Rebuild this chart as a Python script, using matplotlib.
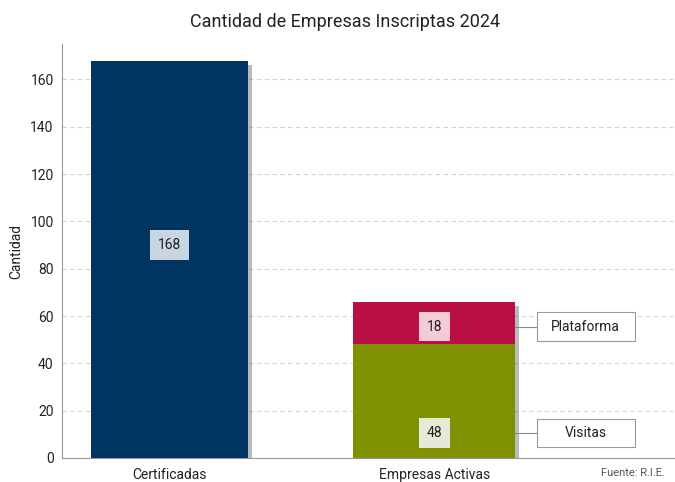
import matplotlib
matplotlib.use("Agg")
import matplotlib.pyplot as plt
import matplotlib.patheffects as pe
from matplotlib.patches import Rectangle

# data
categories = ["Certificadas", "Empresas Activas"]
certificadas = [168, 0]
visitas = [0, 48]
plataforma = [0, 18]

plt.rcParams['font.family'] = ['Roboto', 'DejaVu Sans']

fig = plt.figure(figsize=(6.75, 4.82), dpi=100)
ax = fig.add_axes([0.0919, 0.0498, 0.9081, 0.8589])

shadow = [pe.SimplePatchShadow(offset=(3, -3), shadow_rgbFace="#555555", alpha=0.4),
          pe.Normal()]

x = [0, 1]
totals = [certificadas[i] + visitas[i] + plataforma[i] for i in range(2)]
# shadows behind the full bars
sh = ax.bar(x, totals, width=[0.59, 0.61], color="white", zorder=2.5)
for p in sh:
    p.set_path_effects(shadow)
ax.bar(x[0], certificadas[0], width=0.59, color="#003562", zorder=3)
ax.bar(x[1], visitas[1], width=0.61, color="#7f9100", zorder=3)
ax.bar(x[1], plataforma[1], bottom=visitas[1], width=0.61, color="#b80f45", zorder=3)

def value_box(xv, yv, txt, face):
    ax.text(xv, yv, txt, ha="center", va="center", fontsize=10, color="#222222", zorder=5,
            bbox=dict(boxstyle="square,pad=0.55", facecolor=face, edgecolor="none"))

y_vis = visitas[1] * 0.22
y_pla = visitas[1] + plataforma[1] * 0.42
value_box(x[0], 90, str(certificadas[0]), "#c9d6e1")
value_box(x[1], y_vis, str(visitas[1]), "#e5e9d6")
value_box(x[1], y_pla, str(plataforma[1]), "#f3ccd8")

# callouts on the right
def callout(yv, txt):
    ax.plot([1.307, 1.387], [yv, yv], color="#888888", lw=0.8, zorder=4)
    ax.add_patch(Rectangle((1.387, yv - 6.1), 0.37, 12.2, facecolor="white",
                           edgecolor="#999999", linewidth=0.8, zorder=4))
    ax.text(1.572, yv, txt, ha="center", va="center", fontsize=10, color="#222222", zorder=5)

callout(y_pla, "Plataforma")
callout(y_vis, "Visitas")

ax.set_xlim(-0.406, 1.91)
ax.set_ylim(0, 175)
ax.set_yticks(range(0, 161, 20))
ax.set_xticks(x)
ax.set_xticklabels(categories)
ax.tick_params(axis="both", length=0, labelsize=10, colors="#222222")
ax.tick_params(axis="x", pad=7)
ax.tick_params(axis="y", pad=6)

ax.grid(axis="y", color="#b9dde2", linestyle=(0, (4, 3)), linewidth=0.8, zorder=0)
for s in ("top", "right"):
    ax.spines[s].set_visible(False)
ax.spines["left"].set_color("#999999")
ax.spines["bottom"].set_color("#999999")

ax.set_ylabel("Cantidad", fontsize=10, color="#222222", labelpad=5)
fig.text(0.511, 0.955, "Cantidad de Empresas Inscriptas 2024", ha="center", va="center",
         fontsize=13, color="#222222")
fig.text(0.985, 0.008, "Fuente: R.I.E.", ha="right", va="bottom", fontsize=8, color="#555555")

fig.savefig("out.png", dpi=100)
